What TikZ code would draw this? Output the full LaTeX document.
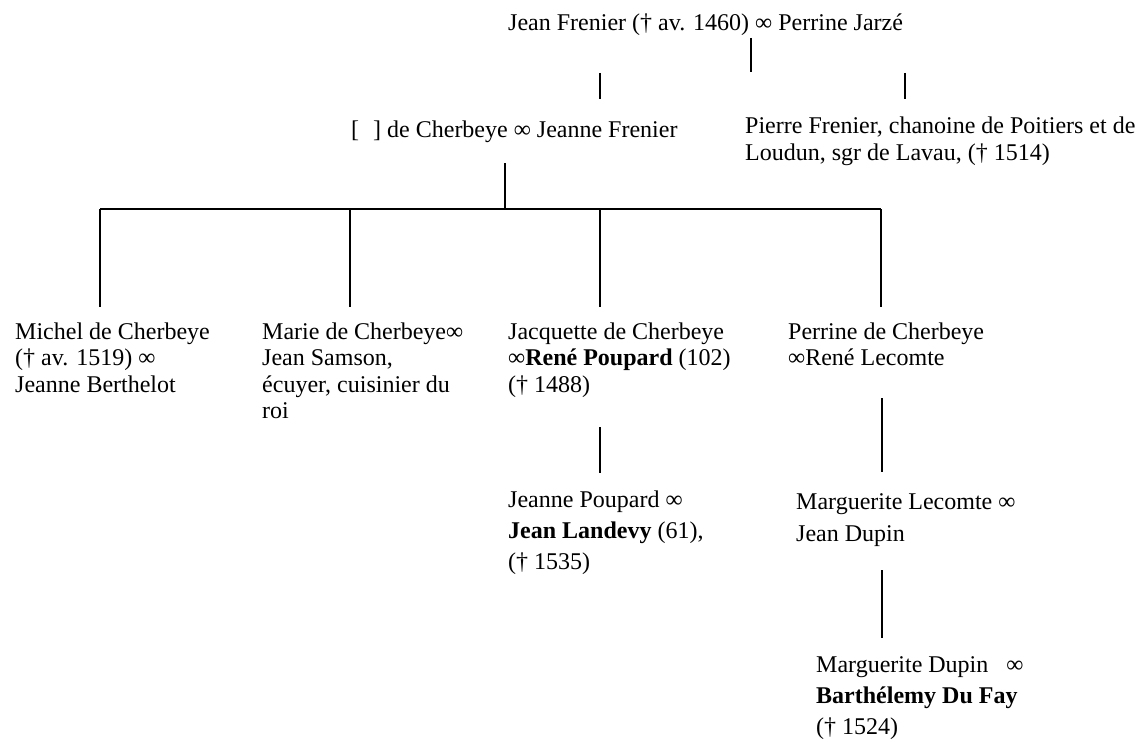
\documentclass[tikz,border=0pt]{standalone}
\usepackage{fontspec}
\setmainfont{Liberation Serif}
\newcommand{\plines}[1]{\begin{tabular}[t]{@{}l@{}}#1\end{tabular}}
\tikzset{
  person/.style={anchor=base west, inner sep=0pt, font=\fontsize{24}{26.5}\selectfont},
  loose/.style={font=\fontsize{24}{31}\selectfont},
  link/.style={line width=2pt}
}
\begin{document}
\begin{tikzpicture}[x=1pt,y=-1pt]
\useasboundingbox (0,0) rectangle (1142,741);
% people
\node[person] (top) at (508,31) {Jean Frenier († av. 1460) ∞ Perrine Jarzé};
\node[person] (cherb) at (351,138) {[\hspace{14pt}] de Cherbeye ∞ Jeanne Frenier};
\node[person,font=\fontsize{24}{27.5}\selectfont] (pierre) at (745,133) {\plines{Pierre Frenier, chanoine de Poitiers et de\\Loudun, sgr de Lavau, († 1514)}};
\node[person] (michel) at (15,339) {\plines{Michel de Cherbeye\\({†} av. 1519) ∞\\Jeanne Berthelot}};
\node[person] (marie) at (262,339) {\plines{Marie de Cherbeye∞\\Jean Samson,\\écuyer, cuisinier du\\roi}};
\node[person] (jacq) at (508,339) {\plines{Jacquette de Cherbeye\\∞\textbf{René Poupard} (102)\\(† 1488)}};
\node[person] (perrine) at (788,339) {\plines{Perrine de Cherbeye\\∞René Lecomte}};
\node[person,loose] (jeanne) at (508,507) {\plines{Jeanne Poupard ∞\\\textbf{Jean Landevy} (61),\\(† 1535)}};
\node[person,font=\fontsize{24}{32}\selectfont] (mlec) at (796,509) {\plines{Marguerite Lecomte ∞\\Jean Dupin}};
\node[person,loose] (mdup) at (816,672) {\plines{Marguerite Dupin\ \ \ ∞\\\textbf{Barthélemy Du Fay}\\(† 1524)}};
% connector end points
\coordinate (a1) at (751,38);  \coordinate (a2) at (751,72);
\coordinate (b1) at (600,73);  \coordinate (b2) at (600,99);
\coordinate (c1) at (905,73);  \coordinate (c2) at (905,99);
\coordinate (d1) at (505,163); \coordinate (d2) at (505,209);
\coordinate (hl) at (100,209); \coordinate (hr) at (881,209);
\coordinate (m1) at (100,209); \coordinate (m2) at (100,307);
\coordinate (r1) at (350,209); \coordinate (r2) at (350,307);
\coordinate (j1) at (600,209); \coordinate (j2) at (600,307);
\coordinate (p1) at (881,209); \coordinate (p2) at (881,307);
\coordinate (e1) at (600,427); \coordinate (e2) at (600,473);
\coordinate (f1) at (882,398); \coordinate (f2) at (882,472);
\coordinate (g1) at (882,570); \coordinate (g2) at (882,638);
% connectors
\draw[link] (a1) -- (a2);
\draw[link] (b1) -- (b2);
\draw[link] (c1) -- (c2);
\draw[link] (d1) -- (d2);
\draw[link] (hl) -- (hr);
\draw[link] (m1) -- (m2);
\draw[link] (r1) -- (r2);
\draw[link] (j1) -- (j2);
\draw[link] (p1) -- (p2);
\draw[link] (e1) -- (e2);
\draw[link] (f1) -- (f2);
\draw[link] (g1) -- (g2);
\end{tikzpicture}
\end{document}
